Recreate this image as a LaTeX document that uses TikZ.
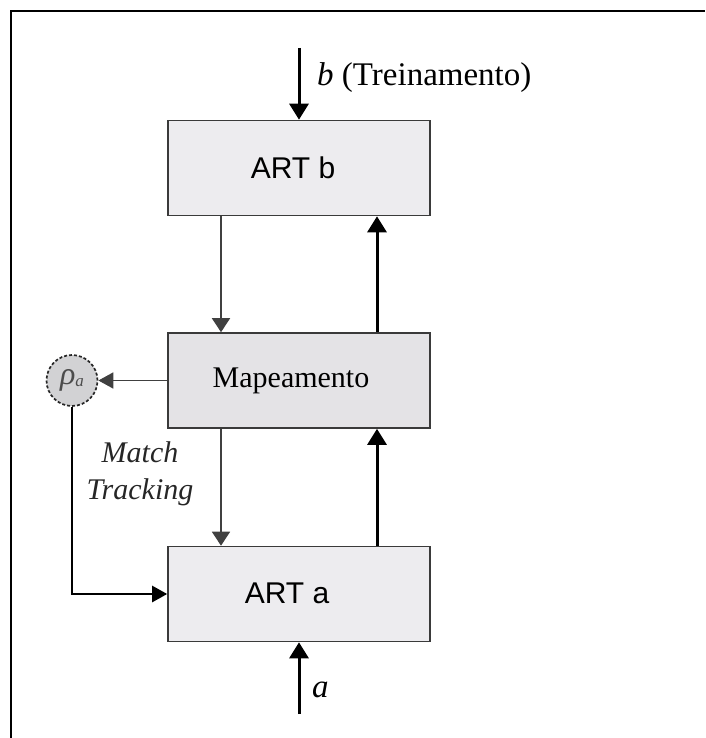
\documentclass[tikz,border=0pt]{standalone}
\usepackage{fontspec}
\setmainfont{Liberation Serif}
\newfontfamily\arialfont{Liberation Sans}
\usetikzlibrary{arrows.meta}
\definecolor{boxfill}{HTML}{EDECEF}
\definecolor{mapfill}{HTML}{E4E3E6}
\definecolor{rhofill}{HTML}{D2D2D4}
\definecolor{boxedge}{HTML}{3A3A3A}
\definecolor{thinline}{HTML}{404040}
\begin{document}
\begin{tikzpicture}[x=1pt,y=-1pt,
  block/.style={draw=boxedge, line width=1.6pt, minimum width=262pt, minimum height=95pt, inner sep=0pt},
  sanslabel/.style={font=\arialfont\fontsize{30}{36}\selectfont, inner sep=0pt},
  seriflabel/.style={font=\fontsize{30}{36}\selectfont, inner sep=0pt},
  heavyarrow/.style={line width=3pt, -{Triangle[width=19pt,length=16pt]}},
  lightline/.style={draw=thinline, line width=1.7pt},
  lighthead/.style={-{Triangle[width=18pt,length=14pt]}}
]
\useasboundingbox (0,0) rectangle (705,738);
% outer frame (open towards the right and bottom)
\draw[line width=2.6pt] (11,738) -- (11,11) -- (705,11);

% blocks
\node[block, fill=boxfill] (artb) at (299,168) {};
\node[block, fill=mapfill] (map) at (299,380.5) {};
\node[block, fill=boxfill] (arta) at (299,594) {};
\node[sanslabel] (artbtext) at (293,168) {ART b};
\node[seriflabel] (maptext) at (291,381) {Mapeamento};
\node[sanslabel] (artatext) at (287,593) {ART a};

% vigilance parameter
\node[circle, draw=black!85, densely dashed, line width=1.7pt, fill=rhofill, minimum size=51pt, inner sep=0pt,
      text=black!70] (rho) at (72,380.5)
      {{\fontsize{32}{36}\selectfont\itshape ρ}\raisebox{-0.35ex}{\fontsize{17}{18}\selectfont\itshape a}};

% inputs
\coordinate (bin) at (299,48);
\coordinate (ain) at (299,714);
\draw[heavyarrow] (bin) -- (artb.north);
\draw[heavyarrow] (ain) -- (arta.south);
\node[anchor=west, font=\fontsize{33}{40}\selectfont, inner sep=0pt] (blabel) at (317,78) {\textit{b} (Treinamento)};
\node[anchor=west, font=\itshape\fontsize{33}{40}\selectfont, inner sep=0pt] (alabel) at (312,690) {a};

% vertical links between blocks
\draw[lightline, lighthead] (artb.south -| 221,0) -- (map.north -| 221,0);
\draw[lightline, lighthead] (map.south -| 221,0) -- (arta.north -| 221,0);
\draw[heavyarrow] (map.north -| 377,0) -- (artb.south -| 377,0);
\draw[heavyarrow] (arta.north -| 377,0) -- (map.south -| 377,0);

% match tracking loop
\draw[lightline, -{Triangle[width=16pt,length=15pt]}] (map.west) -- (rho.east);
\draw[line width=2.4pt, -{Triangle[width=16pt,length=15pt]}] (rho.south) |- (arta.west);
\node[align=center, font=\itshape\fontsize{30}{37}\selectfont, text=black!85, inner sep=0pt] (mtrack) at (140,474) {Match\\Tracking};
\end{tikzpicture}
\end{document}
